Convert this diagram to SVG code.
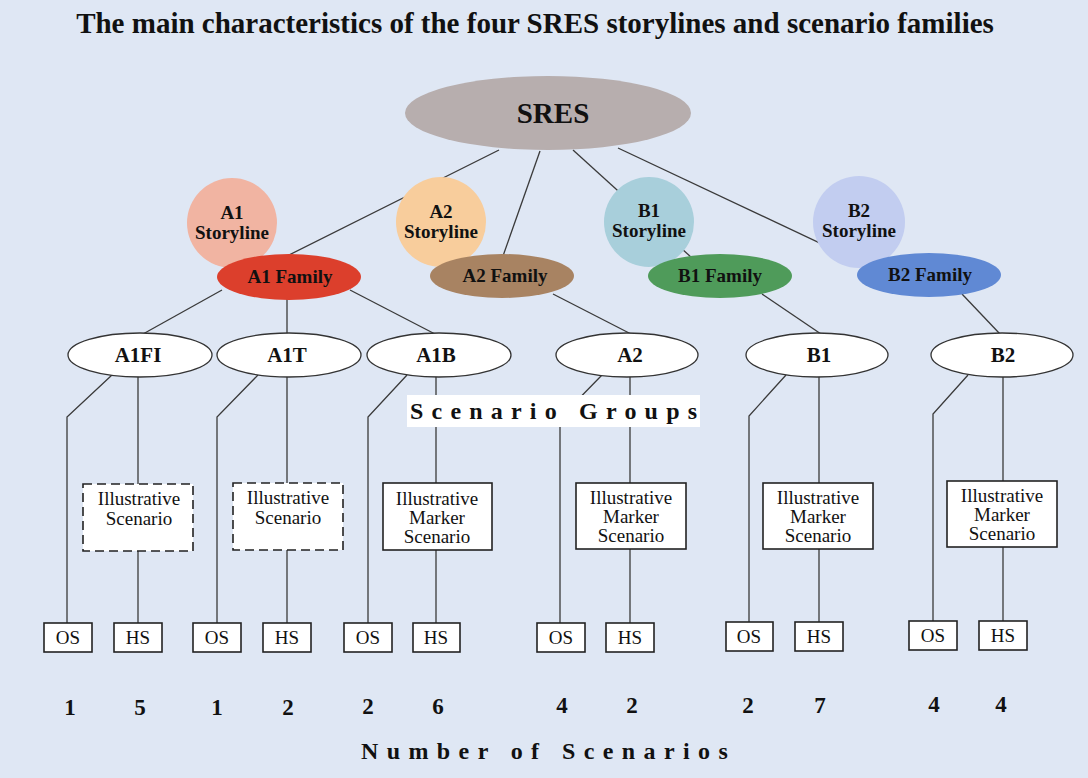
<svg xmlns="http://www.w3.org/2000/svg" width="1088" height="778" viewBox="0 0 1088 778">
  <style>
    .bg { fill: #dfe7f4; }
    .ln { stroke: #3a3a3a; stroke-width: 1.3; fill: none; }
    .title { font-family: "Liberation Serif", "Times New Roman", serif; font-weight: bold; font-size: 29px; fill: #111; }
    .big { font-family: "Liberation Serif", "Times New Roman", serif; font-weight: bold; font-size: 29px; fill: #111; }
    .lbl { font-family: "Liberation Serif", "Times New Roman", serif; font-weight: bold; font-size: 19px; fill: #111; }
    .grp { font-family: "Liberation Serif", "Times New Roman", serif; font-weight: bold; font-size: 21px; fill: #111; }
    .box { font-family: "Liberation Serif", "Times New Roman", serif; font-size: 19px; fill: #111; }
    .leaf { font-family: "Liberation Serif", "Times New Roman", serif; font-size: 19px; fill: #111; }
    .num { font-family: "Liberation Serif", "Times New Roman", serif; font-weight: bold; font-size: 23px; fill: #111; }
    .sp { font-family: "Liberation Serif", "Times New Roman", serif; font-weight: bold; font-size: 24px; fill: #111; text-anchor: start; }
    .sg { fill: #ffffff; stroke: #333; stroke-width: 1.3; }
    .rect { fill: #ffffff; stroke: #222; stroke-width: 1.6; }
    .dash { fill: #ffffff; stroke: #222; stroke-width: 1.6; stroke-dasharray: 9 5; }
    text { text-anchor: middle; }
  </style>

  <rect class="bg" x="0" y="0" width="1088" height="778"/>

  <text class="title" x="535" y="33">The main characteristics of the four SRES storylines and scenario families</text>

  <!-- connectors -->
  <g id="connectors">
    <!-- SRES to families -->
    <line class="ln" x1="499" y1="150" x2="285" y2="257"/>
    <line class="ln" x1="540" y1="151" x2="503" y2="256"/>
    <line class="ln" x1="573" y1="150" x2="692" y2="258"/>
    <line class="ln" x1="618" y1="148" x2="860" y2="262"/>
    <!-- families to scenario groups -->
    <line class="ln" x1="222" y1="290" x2="143" y2="334"/>
    <line class="ln" x1="287" y1="299" x2="287" y2="334"/>
    <line class="ln" x1="350" y1="290" x2="435" y2="334"/>
    <line class="ln" x1="553" y1="294" x2="631" y2="334"/>
    <line class="ln" x1="762" y1="294" x2="821" y2="334"/>
    <line class="ln" x1="962" y1="294" x2="1000" y2="334"/>
    <!-- scenario groups to OS / HS -->
    <polyline class="ln" points="112,375 67,417 67,623"/>
    <line class="ln" x1="138" y1="376" x2="138" y2="623"/>
    <polyline class="ln" points="258,375 217,417 217,623"/>
    <line class="ln" x1="287" y1="376" x2="287" y2="623"/>
    <polyline class="ln" points="407,375 368,417 368,623"/>
    <line class="ln" x1="436" y1="376" x2="436" y2="623"/>
    <polyline class="ln" points="602,375 560,418 560,623"/>
    <line class="ln" x1="630" y1="376" x2="630" y2="623"/>
    <polyline class="ln" points="786,375 749,416 749,623"/>
    <line class="ln" x1="819" y1="376" x2="819" y2="623"/>
    <polyline class="ln" points="968,375 933,414 933,623"/>
    <line class="ln" x1="1003" y1="376" x2="1003" y2="623"/>
  </g>

  <!-- root -->
  <g id="sres">
    <ellipse cx="548" cy="113" rx="143" ry="37" fill="#b7aeae"/>
    <text class="big" x="553" y="123">SRES</text>
  </g>

  <!-- storylines and families -->
  <g id="a1-storyline">
    <circle cx="232" cy="223" r="45" fill="#f1b4a2"/>
    <text class="lbl" x="232" y="219">A1</text>
    <text class="lbl" x="232" y="239">Storyline</text>
  </g>
  <g id="a1-family">
    <ellipse cx="289" cy="277" rx="72" ry="23" fill="#dc3f2c"/>
    <text class="lbl" x="290" y="283">A1 Family</text>
  </g>

  <g id="a2-storyline">
    <circle cx="441" cy="222" r="45" fill="#f8cd9c"/>
    <text class="lbl" x="441" y="218">A2</text>
    <text class="lbl" x="441" y="238">Storyline</text>
  </g>
  <g id="a2-family">
    <ellipse cx="502" cy="276" rx="72" ry="22" fill="#a88362"/>
    <text class="lbl" x="505" y="282">A2 Family</text>
  </g>

  <g id="b1-storyline">
    <circle cx="649" cy="222" r="45" fill="#a8cfdb"/>
    <text class="lbl" x="649" y="217">B1</text>
    <text class="lbl" x="649" y="237">Storyline</text>
  </g>
  <g id="b1-family">
    <ellipse cx="720" cy="276" rx="72" ry="22" fill="#4f9b5a"/>
    <text class="lbl" x="720" y="282">B1 Family</text>
  </g>

  <g id="b2-storyline">
    <circle cx="859" cy="222" r="46" fill="#c2cdf0"/>
    <text class="lbl" x="859" y="217">B2</text>
    <text class="lbl" x="859" y="237">Storyline</text>
  </g>
  <g id="b2-family">
    <ellipse cx="929" cy="275" rx="72" ry="22" fill="#6089d4"/>
    <text class="lbl" x="930" y="281">B2 Family</text>
  </g>

  <!-- scenario groups -->
  <g id="g-a1fi">
    <ellipse class="sg" cx="140" cy="355" rx="72" ry="22"/>
    <text class="grp" x="138" y="362">A1FI</text>
  </g>
  <g id="g-a1t">
    <ellipse class="sg" cx="289" cy="355" rx="72" ry="22"/>
    <text class="grp" x="287" y="362">A1T</text>
  </g>
  <g id="g-a1b">
    <ellipse class="sg" cx="439" cy="355" rx="72" ry="22"/>
    <text class="grp" x="436" y="362">A1B</text>
  </g>
  <g id="g-a2">
    <ellipse class="sg" cx="627" cy="355" rx="71" ry="22"/>
    <text class="grp" x="630" y="362">A2</text>
  </g>
  <g id="g-b1">
    <ellipse class="sg" cx="817" cy="355" rx="71" ry="22"/>
    <text class="grp" x="819" y="362">B1</text>
  </g>
  <g id="g-b2">
    <ellipse class="sg" cx="1002" cy="355" rx="71" ry="22"/>
    <text class="grp" x="1003" y="362">B2</text>
  </g>

  <!-- scenario groups caption -->
  <g id="caption-groups">
    <rect x="407" y="395" width="293" height="32" fill="#ffffff"/>
    <text class="sp" x="410" y="419" letter-spacing="8.2">Scenario Groups</text>
  </g>

  <!-- illustrative scenarios -->
  <g id="ill-a1fi">
    <rect class="dash" x="83" y="484" width="110" height="67"/>
    <text class="box" x="139" y="505">Illustrative</text>
    <text class="box" x="139" y="525">Scenario</text>
  </g>
  <g id="ill-a1t">
    <rect class="dash" x="233" y="483" width="110" height="67"/>
    <text class="box" x="288" y="504">Illustrative</text>
    <text class="box" x="288" y="524">Scenario</text>
  </g>
  <g id="ill-a1b">
    <rect class="rect" x="383" y="483" width="109" height="67"/>
    <text class="box" x="437" y="505">Illustrative</text>
    <text class="box" x="437" y="524">Marker</text>
    <text class="box" x="437" y="543">Scenario</text>
  </g>
  <g id="ill-a2">
    <rect class="rect" x="576" y="483" width="110" height="66"/>
    <text class="box" x="631" y="504">Illustrative</text>
    <text class="box" x="631" y="523">Marker</text>
    <text class="box" x="631" y="542">Scenario</text>
  </g>
  <g id="ill-b1">
    <rect class="rect" x="763" y="483" width="110" height="66"/>
    <text class="box" x="818" y="504">Illustrative</text>
    <text class="box" x="818" y="523">Marker</text>
    <text class="box" x="818" y="542">Scenario</text>
  </g>
  <g id="ill-b2">
    <rect class="rect" x="947" y="481" width="110" height="66"/>
    <text class="box" x="1002" y="502">Illustrative</text>
    <text class="box" x="1002" y="521">Marker</text>
    <text class="box" x="1002" y="540">Scenario</text>
  </g>

  <!-- OS / HS leaves -->
  <g id="os-a1fi"><rect class="rect" x="44" y="623" width="48" height="29"/><text class="leaf" x="68" y="644">OS</text></g>
  <g id="hs-a1fi"><rect class="rect" x="114" y="623" width="48" height="29"/><text class="leaf" x="138" y="644">HS</text></g>
  <g id="os-a1t"><rect class="rect" x="193" y="623" width="48" height="29"/><text class="leaf" x="217" y="644">OS</text></g>
  <g id="hs-a1t"><rect class="rect" x="263" y="623" width="48" height="29"/><text class="leaf" x="287" y="644">HS</text></g>
  <g id="os-a1b"><rect class="rect" x="344" y="623" width="48" height="29"/><text class="leaf" x="368" y="644">OS</text></g>
  <g id="hs-a1b"><rect class="rect" x="413" y="623" width="47" height="29"/><text class="leaf" x="436" y="644">HS</text></g>
  <g id="os-a2"><rect class="rect" x="537" y="623" width="48" height="29"/><text class="leaf" x="561" y="644">OS</text></g>
  <g id="hs-a2"><rect class="rect" x="606" y="623" width="48" height="29"/><text class="leaf" x="630" y="644">HS</text></g>
  <g id="os-b1"><rect class="rect" x="726" y="622" width="47" height="29"/><text class="leaf" x="749" y="643">OS</text></g>
  <g id="hs-b1"><rect class="rect" x="795" y="622" width="48" height="29"/><text class="leaf" x="819" y="643">HS</text></g>
  <g id="os-b2"><rect class="rect" x="909" y="621" width="48" height="29"/><text class="leaf" x="933" y="642">OS</text></g>
  <g id="hs-b2"><rect class="rect" x="979" y="621" width="48" height="29"/><text class="leaf" x="1003" y="642">HS</text></g>

  <!-- scenario counts -->
  <g id="counts">
    <text class="num" x="70" y="715">1</text>
    <text class="num" x="140" y="715">5</text>
    <text class="num" x="217" y="715">1</text>
    <text class="num" x="288" y="715">2</text>
    <text class="num" x="368" y="714">2</text>
    <text class="num" x="438" y="714">6</text>
    <text class="num" x="562" y="713">4</text>
    <text class="num" x="632" y="713">2</text>
    <text class="num" x="748" y="713">2</text>
    <text class="num" x="820" y="713">7</text>
    <text class="num" x="934" y="712">4</text>
    <text class="num" x="1001" y="712">4</text>
  </g>

  <text class="sp" x="361" y="759" font-size="25" letter-spacing="8.4">Number of Scenarios</text>
</svg>
